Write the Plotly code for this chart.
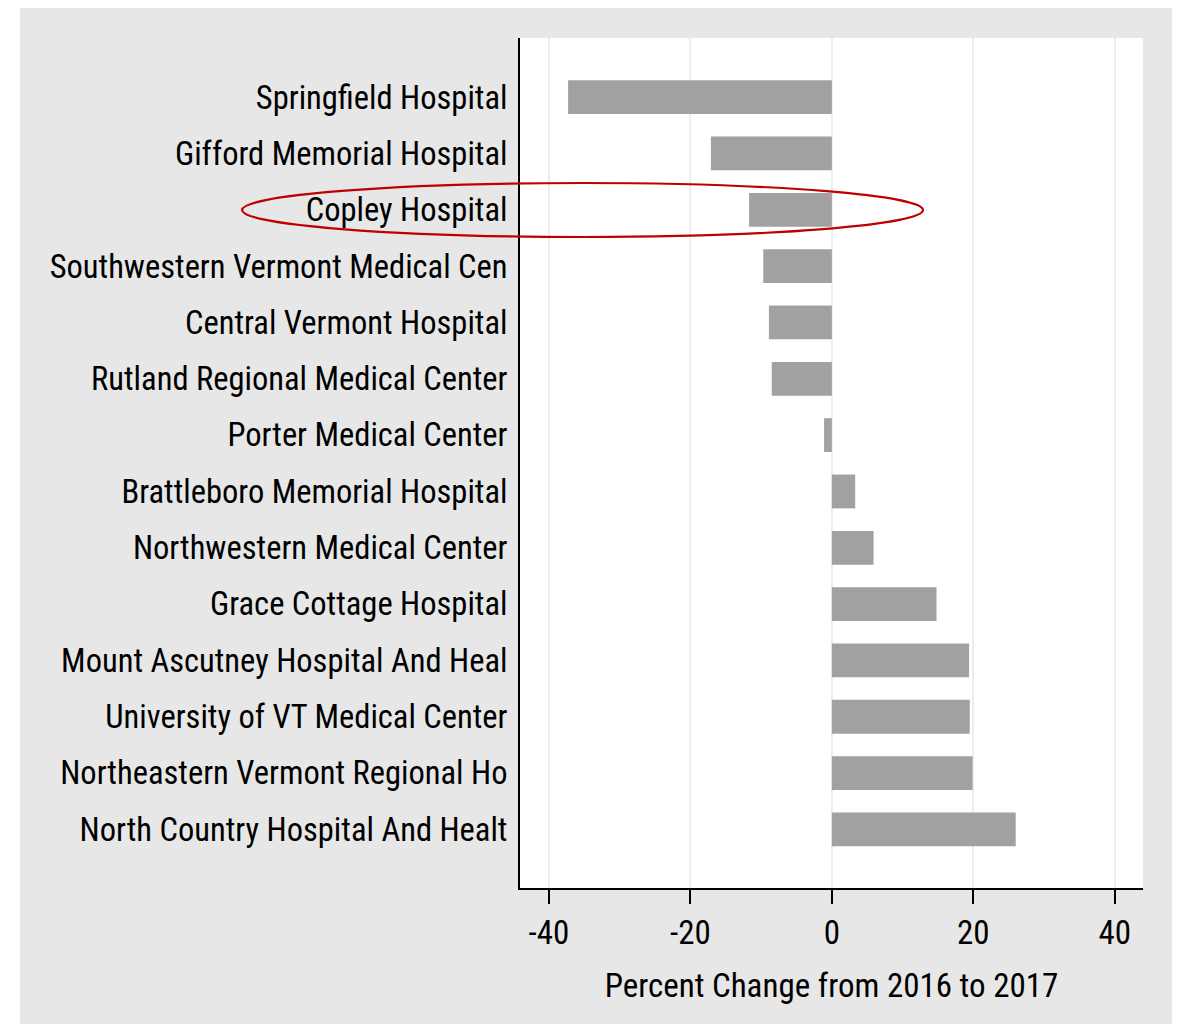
import plotly.graph_objects as go

hospitals = [
    "Springfield Hospital",
    "Gifford Memorial Hospital",
    "Copley Hospital",
    "Southwestern Vermont Medical Cen",
    "Central Vermont Hospital",
    "Rutland Regional Medical Center",
    "Porter Medical Center",
    "Brattleboro Memorial Hospital",
    "Northwestern Medical Center",
    "Grace Cottage Hospital",
    "Mount Ascutney Hospital And Heal",
    "University of VT Medical Center",
    "Northeastern Vermont Regional Ho",
    "North Country Hospital And Healt",
]
pct_change = [-37.3, -17.1, -11.7, -9.7, -8.9, -8.5, -1.1, 3.3, 5.9, 14.8, 19.4, 19.5, 19.9, 26.0]
x_ticks = [-40, -20, 0, 20, 40]
x_title = "Percent Change from 2016 to 2017"

FONT = ("Liberation Sans Narrow, Nimbus Sans Narrow, Arial Narrow, "
        "Roboto Condensed, PT Sans Narrow, Archivo Narrow, sans-serif")
FS_Y = 32.5
FS_X = 33
OFF = 8
W, H = 1183 - OFF, 1024 - OFF
L, R, T, B = 520 - OFF, 1143 - OFF, 38 - OFF, 888 - OFF
pw, ph = R - L, B - T

def px(xp):
    return (xp - OFF - L) / pw

def py(yp):
    return (B - (yp - OFF)) / ph

idx = list(range(len(hospitals)))

fig = go.Figure(
    go.Bar(
        x=pct_change,
        y=idx,
        orientation="h",
        width=0.6,
        marker=dict(color="#a1a1a1", line=dict(width=0)),
    )
)

fig.update_layout(
    width=W,
    height=H,
    margin=dict(l=L, r=W - R, t=T, b=H - B, pad=0),
    paper_bgcolor="white",
    plot_bgcolor="white",
    showlegend=False,
    font=dict(family=FONT, size=FS_Y, color="black"),
    xaxis=dict(
        range=[-44.1, 44.0],
        tickvals=x_ticks,
        ticktext=[str(v) for v in x_ticks],
        ticks="outside",
        ticklen=14,
        tickwidth=2,
        tickcolor="black",
        showgrid=True,
        gridcolor="#e6eff1",
        gridwidth=2,
        zeroline=False,
        showline=True,
        linecolor="black",
        linewidth=2,
        tickfont=dict(family=FONT, size=FS_X),
        title=dict(text=x_title, font=dict(family=FONT, size=FS_X), standoff=23),
    ),
    yaxis=dict(
        range=[len(hospitals) - 1 + 1.04, -1.05],
        tickvals=idx,
        ticktext=hospitals,
        ticks="outside",
        ticklen=4,
        tickcolor="rgba(0,0,0,0)",
        showgrid=False,
        zeroline=False,
        showline=True,
        linecolor="black",
        linewidth=2,
        tickfont=dict(family=FONT, size=FS_Y),
    ),
    shapes=[
        dict(type="rect", xref="paper", yref="paper",
             x0=px(20), x1=px(1172), y0=py(1040), y1=py(2),
             fillcolor="#e7e7e7", line=dict(width=0), layer="below"),
        dict(type="rect", xref="paper", yref="paper",
             x0=0, x1=1, y0=0, y1=1,
             fillcolor="white", line=dict(width=0), layer="below"),
        dict(type="circle", xref="paper", yref="paper",
             x0=px(242), x1=px(923), y0=py(237), y1=py(183),
             line=dict(color="#c00000", width=2.2), fillcolor="rgba(0,0,0,0)",
             layer="above"),
    ],
)

fig.write_html("out.html")
